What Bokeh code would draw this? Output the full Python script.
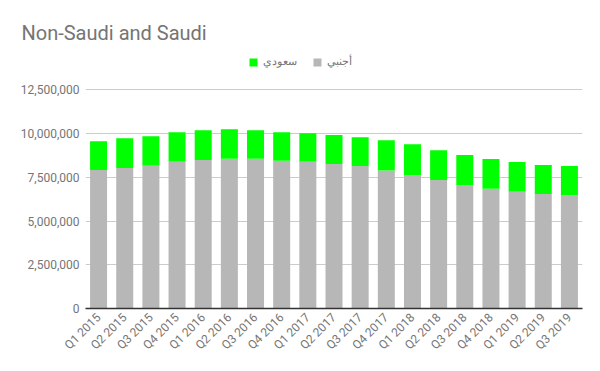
from bokeh.plotting import figure
from bokeh.models import Legend, LegendItem, FixedTicker, NumeralTickFormatter
from bokeh.embed import file_html
from bokeh.resources import INLINE

quarters = ["Q1 2015", "Q2 2015", "Q3 2015", "Q4 2015", "Q1 2016", "Q2 2016", "Q3 2016", "Q4 2016",
            "Q1 2017", "Q2 2017", "Q3 2017", "Q4 2017", "Q1 2018", "Q2 2018", "Q3 2018", "Q4 2018",
            "Q1 2019", "Q2 2019", "Q3 2019"]
non_saudi = [7910000, 8030000, 8160000, 8390000, 8480000, 8560000, 8560000, 8450000,
             8390000, 8260000, 8140000, 7880000, 7630000, 7350000, 7060000, 6840000,
             6670000, 6550000, 6490000]
totals = [9560000, 9730000, 9850000, 10070000, 10190000, 10250000, 10190000, 10070000,
          10020000, 9920000, 9790000, 9620000, 9390000, 9050000, 8770000, 8540000,
          8370000, 8200000, 8140000]
saudi = [t - n for t, n in zip(totals, non_saudi)]
y_ticks = [0, 2500000, 5000000, 7500000, 10000000, 12500000]
title_text = "Non-Saudi and Saudi"
label_saudi = "سعودي"
label_foreign = "أجنبي"

FONT = "Roboto"
GRAY_TXT = "#757575"

p = figure(x_range=quarters, y_range=(0, 14630000), width=600, height=371,
           output_backend="svg", toolbar_location=None,
           min_border_left=85, min_border_right=18, min_border_top=52, min_border_bottom=63)
p.title.text = title_text
p.title.text_font = FONT
p.title.text_font_size = "20px"
p.title.text_font_style = "normal"
p.title.text_color = GRAY_TXT
p.title.align = "left"
p.title.offset = -64
p.title.standoff = 15

data = {"q": quarters, "foreign": non_saudi, "saudi": saudi}
rs = p.vbar_stack(["foreign", "saudi"], x="q", width=0.65, source=data,
                  color=["#b7b7b7", "#00ff00"], line_color=None)

legend = Legend(items=[LegendItem(label=label_saudi, renderers=[rs[1]]),
                       LegendItem(label=label_foreign, renderers=[rs[0]])],
                orientation="horizontal", location=(163, 240),
                label_text_font=FONT, label_text_font_size="11px", label_text_color=GRAY_TXT,
                glyph_width=10, glyph_height=10, label_standoff=5, spacing=15,
                border_line_color=None, background_fill_alpha=0, padding=0, margin=0)
p.add_layout(legend, "center")

p.yaxis.ticker = FixedTicker(ticks=y_ticks)
p.yaxis.formatter = NumeralTickFormatter(format="0,0")
p.yaxis.axis_line_color = None
p.yaxis.major_tick_line_color = None
p.yaxis.minor_tick_line_color = None
p.yaxis.major_tick_out = 0
p.yaxis.minor_tick_out = 0
p.yaxis.major_label_text_font = FONT
p.yaxis.major_label_text_font_size = "12px"
p.yaxis.major_label_text_color = GRAY_TXT
p.yaxis.major_label_standoff = 6

p.xaxis.axis_line_color = "#333333"
p.xaxis.axis_line_width = 1.5
p.xaxis.major_tick_line_color = None
p.xaxis.minor_tick_line_color = None
p.xaxis.major_tick_out = 0
p.xaxis.minor_tick_out = 0
p.xaxis.major_label_orientation = 0.785398
p.xaxis.major_label_text_font = FONT
p.xaxis.major_label_text_font_size = "12px"
p.xaxis.major_label_text_color = GRAY_TXT
p.xaxis.major_label_standoff = 7

p.xgrid.grid_line_color = None
p.ygrid.grid_line_color = "#cccccc"
p.x_range.range_padding = 0.0
p.outline_line_color = None

open("out.html", "w").write(file_html(p, INLINE))
